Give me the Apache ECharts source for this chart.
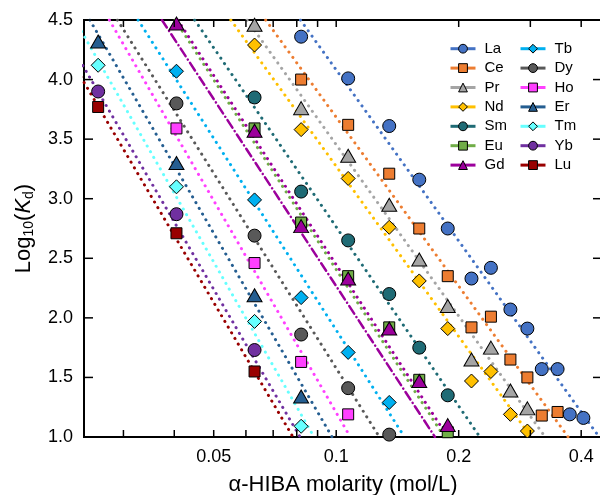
<!DOCTYPE html>
<html>
<head>
<meta charset="utf-8">
<script src="https://cdn.jsdelivr.net/npm/echarts@6/dist/echarts.min.js"></script>
<style>
  html, body { margin: 0; padding: 0; background: #fff; }
  #main { width: 600px; height: 495px; }
</style>
</head>
<body>
<div id="main"></div>
<script>
// measured points [molarity, log10 Kd]
const La = [[0.082, 4.36], [0.107, 4.01], [0.135, 3.61], [0.16, 3.16], [0.188, 2.75], [0.215, 2.33], [0.24, 2.42], [0.268, 2.07], [0.295, 1.91], [0.32, 1.57], [0.35, 1.57], [0.375, 1.19], [0.405, 1.16]];
const Ce = [[0.082, 4.00], [0.107, 3.62], [0.135, 3.21], [0.16, 2.75], [0.188, 2.35], [0.215, 1.92], [0.24, 2.01], [0.268, 1.65], [0.295, 1.50], [0.32, 1.18], [0.35, 1.21]];
const Pr = [[0.063, 4.46], [0.082, 3.76], [0.107, 3.36], [0.135, 2.95], [0.16, 2.49], [0.188, 2.10], [0.215, 1.65], [0.24, 1.75], [0.268, 1.39], [0.295, 1.24]];
const Nd = [[0.063, 4.29], [0.082, 3.58], [0.107, 3.17], [0.135, 2.76], [0.16, 2.31], [0.188, 1.91], [0.215, 1.47], [0.24, 1.55], [0.268, 1.19], [0.295, 1.05]];
const Sm = [[0.063, 3.85], [0.082, 3.06], [0.107, 2.65], [0.135, 2.20], [0.16, 1.75], [0.188, 1.35]];
const Eu = [[0.063, 3.59], [0.082, 2.80], [0.107, 2.35], [0.135, 1.92], [0.16, 1.48], [0.188, 1.04]];
const Gd = [[0.0405, 4.47], [0.063, 3.57], [0.082, 2.77], [0.107, 2.33], [0.135, 1.91], [0.16, 1.47], [0.188, 1.10]];
const Tb = [[0.0405, 4.07], [0.063, 2.99], [0.082, 2.17], [0.107, 1.71], [0.135, 1.29]];
const Dy = [[0.0405, 3.80], [0.063, 2.69], [0.082, 1.86], [0.107, 1.41], [0.135, 1.02]];
const Ho = [[0.0405, 3.59], [0.063, 2.46], [0.082, 1.63], [0.107, 1.19]];
const Er = [[0.026, 4.32], [0.0405, 3.30], [0.063, 2.19], [0.082, 1.34]];
const Tm = [[0.026, 4.12], [0.0405, 3.10], [0.063, 1.97], [0.082, 1.09]];
const Yb = [[0.026, 3.90], [0.0405, 2.87], [0.063, 1.73]];
const Lu = [[0.026, 3.77], [0.0405, 2.71], [0.063, 1.55]];

// fitted lines, read as the two points where they leave the frame
const laFit = [[0.0817, 4.5], [0.4428, 1.0]];
const ceFit = [[0.0671, 4.5], [0.3716, 1.0]];
const prFit = [[0.0604, 4.5], [0.3263, 1.0]];
const ndFit = [[0.0551, 4.5], [0.3013, 1.0]];
const smFit = [[0.0449, 4.5], [0.2255, 1.0]];
const euFit = [[0.0402, 4.5], [0.1844, 1.0]];
const gdFit = [[0.0408, 4.5], [0.188, 1.0]];
const gdFit2 = [[0.0373, 4.5], [0.1749, 1.0]];
const tbFit = [[0.0326, 4.5], [0.1472, 1.0]];
const dyFit = [[0.0290, 4.5], [0.1277, 1.0]];
const hoFit = [[0.0277, 4.5], [0.1083, 1.0]];
const erFit = [[0.0248, 4.5], [0.0977, 1.0]];
const tmFit = [[0.0228, 4.5], [0.0882, 1.0]];
const ybFit = [[0.0205, 4.5], [0.0815, 1.0]];
const luFit = [[0.0195, 4.5], [0.0783, 1.0]];

const xTicks = [0.03, 0.04, 0.05, 0.06, 0.07, 0.08, 0.09, 0.1, 0.2, 0.3, 0.4];
const xLabels = [0.05, 0.1, 0.2, 0.4];
const yTicks = [1.0, 1.5, 2.0, 2.5, 3.0, 3.5, 4.0, 4.5];
const legendLeft = ['La', 'Ce', 'Pr', 'Nd', 'Sm', 'Eu', 'Gd'];
const legendRight = ['Tb', 'Dy', 'Ho', 'Er', 'Tm', 'Yb', 'Lu'];

const FONT = 'Liberation Sans, Arial, sans-serif';

const sym = {
  circle: ['circle', 13],
  square: ['rect', 11],
  triangle: ['triangle', [15, 13]],
  diamond: ['diamond', 14]
};

const elements = [
  { name: 'La', data: La, fit: laFit, color: '#4472c4', shape: 'circle' },
  { name: 'Ce', data: Ce, fit: ceFit, color: '#ed7d31', shape: 'square' },
  { name: 'Pr', data: Pr, fit: prFit, color: '#a5a5a5', shape: 'triangle' },
  { name: 'Nd', data: Nd, fit: ndFit, color: '#ffc000', shape: 'diamond' },
  { name: 'Sm', data: Sm, fit: smFit, color: '#1f6b75', shape: 'circle' },
  { name: 'Eu', data: Eu, fit: euFit, color: '#70ad47', shape: 'square' },
  { name: 'Gd', data: Gd, fit: gdFit, color: '#9c009c', shape: 'triangle' },
  { name: 'Tb', data: Tb, fit: tbFit, color: '#00b0f0', shape: 'diamond' },
  { name: 'Dy', data: Dy, fit: dyFit, color: '#595959', shape: 'circle' },
  { name: 'Ho', data: Ho, fit: hoFit, color: '#ff40ff', shape: 'square' },
  { name: 'Er', data: Er, fit: erFit, color: '#255e91', shape: 'triangle' },
  { name: 'Tm', data: Tm, fit: tmFit, color: '#66ffff', shape: 'diamond' },
  { name: 'Yb', data: Yb, fit: ybFit, color: '#7030a0', shape: 'circle' },
  { name: 'Lu', data: Lu, fit: luFit, color: '#990000', shape: 'square' }
];

const series = [];
elements.forEach(el => {
  series.push({
    type: 'line',
    data: el.fit,
    symbol: 'none',
    silent: true,
    z: 1,
    lineStyle: { color: el.color, width: 3, type: [0.1, 6.5], cap: 'round' }
  });
});
// extra dash-dot line next to Gd
series.push({
  type: 'line',
  data: gdFit2,
  symbol: 'none',
  silent: true,
  z: 1,
  lineStyle: { color: '#9c009c', width: 2.5, type: [9, 4, 0.1, 4], cap: 'round' }
});
elements.forEach(el => {
  const s = sym[el.shape];
  series.push({
    name: el.name,
    type: 'line',
    data: el.data,
    symbol: s[0],
    symbolSize: s[1],
    z: 3,
    itemStyle: { color: el.color, borderColor: '#000', borderWidth: 1 },
    lineStyle: { color: el.color, width: 0 }
  });
});

// inward ticks on all four sides, placed through the axis scales
const tickStyle = { stroke: '#000', lineWidth: 1.5 };
series.push({
  type: 'custom',
  silent: true,
  z: 5,
  data: xTicks.map(v => [v, 1.0]),
  renderItem: (params, api) => {
    const cs = params.coordSys;
    const px = api.coord([api.value(0), 1.0])[0];
    const bottom = cs.y + cs.height;
    return {
      type: 'group',
      children: [
        { type: 'line', shape: { x1: px, y1: bottom, x2: px, y2: bottom - 7 }, style: tickStyle },
        { type: 'line', shape: { x1: px, y1: cs.y, x2: px, y2: cs.y + 7 }, style: tickStyle }
      ]
    };
  }
});
series.push({
  type: 'custom',
  silent: true,
  z: 5,
  data: yTicks.map(v => [0.1, v]),
  renderItem: (params, api) => {
    const cs = params.coordSys;
    const py = api.coord([0.1, api.value(1)])[1];
    const right = cs.x + cs.width;
    return {
      type: 'group',
      children: [
        { type: 'line', shape: { x1: cs.x, y1: py, x2: cs.x + 9, y2: py }, style: tickStyle },
        { type: 'line', shape: { x1: right, y1: py, x2: right - 9, y2: py }, style: tickStyle }
      ]
    };
  }
});

const legendCommon = {
  orient: 'vertical',
  top: 34,
  itemWidth: 25,
  itemHeight: 11,
  itemGap: 0,
  textStyle: { fontFamily: FONT, fontSize: 15, color: '#000', lineHeight: 19.4, padding: [0, 0, 0, 4] },
  lineStyle: { width: 3, type: 'solid' },
  itemStyle: { borderColor: '#000', borderWidth: 1 }
};

const option = {
  animation: false,
  grid: {
    left: 84, right: -2, top: 20, bottom: 58,
    containLabel: false, outerBoundsMode: 'none',
    show: true, borderColor: '#000', borderWidth: 2, backgroundColor: 'transparent'
  },
  legend: [
    Object.assign({ data: legendLeft, left: 444 }, legendCommon),
    Object.assign({ data: legendRight, left: 514 }, legendCommon)
  ],
  xAxis: [
    {
      type: 'log',
      min: 0.024,
      max: 0.45,
      position: 'bottom',
      axisLine: { show: false },
      axisTick: { show: false },
      splitLine: { show: false },
      axisLabel: {
        customValues: xLabels,
        margin: 11,
        fontFamily: FONT,
        fontSize: 18,
        color: '#000',
        formatter: v => String(+Number(v).toPrecision(3))
      },
      name: 'α-HIBA molarity (mol/L)',
      nameLocation: 'middle',
      nameGap: 37,
      nameTextStyle: { fontFamily: FONT, fontSize: 22, color: '#000' }
    }
  ],
  yAxis: [
    {
      type: 'value',
      min: 1,
      max: 4.5,
      interval: 0.5,
      position: 'left',
      axisLine: { show: false },
      axisTick: { show: false },
      splitLine: { show: false },
      axisLabel: {
        margin: 11,
        fontFamily: FONT,
        fontSize: 18,
        color: '#000',
        formatter: v => Number(v).toFixed(1)
      },
      name: '{t|Log}{s|10}{t|(}{i|K}{s|d}{t|)}',
      nameLocation: 'middle',
      nameGap: 48,
      nameTextStyle: {
        fontFamily: FONT,
        fontSize: 22,
        color: '#000',
        rich: {
          t: { fontFamily: FONT, fontSize: 22, color: '#000' },
          i: { fontFamily: FONT, fontSize: 22, color: '#000', fontStyle: 'italic' },
          s: { fontFamily: FONT, fontSize: 14, color: '#000', padding: [11, 0, 0, 0] }
        }
      }
    }
  ],
  series: series
};

const chart = echarts.init(document.getElementById('main'));
chart.setOption(option);
</script>
</body>
</html>
